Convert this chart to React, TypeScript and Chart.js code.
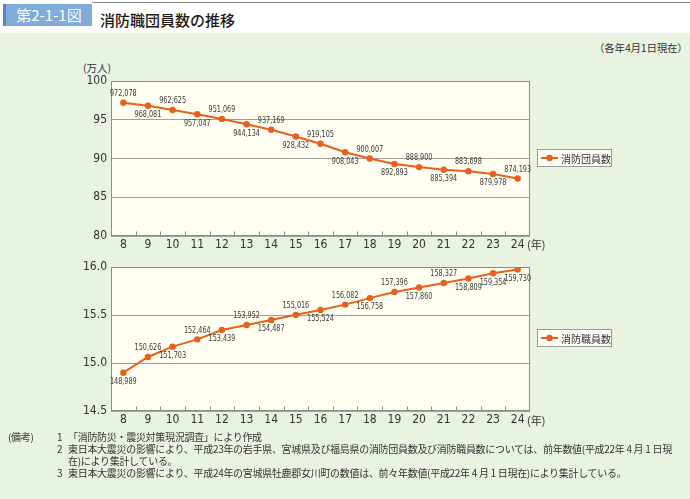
import React, { useEffect, useRef } from 'react';
import { Chart, registerables } from 'chart.js';

Chart.register(...registerables);

// ---- data ----
const years = ['8', '9', '10', '11', '12', '13', '14', '15', '16', '17', '18', '19', '20', '21', '22', '23', '24'];
// 消防団員数 (万人)
const volunteerCounts = [97.2078, 96.8081, 96.2625, 95.7047, 95.1069, 94.4134, 93.7169, 92.8432, 91.9105, 90.8043, 90.0007, 89.2893, 88.89, 88.5394, 88.3698, 87.9978, 87.4193];
// 消防職員数 (万人)
const staffCounts = [14.8989, 15.0626, 15.1703, 15.2464, 15.3439, 15.3952, 15.4487, 15.5016, 15.5524, 15.6082, 15.6758, 15.7396, 15.786, 15.8327, 15.8809, 15.9354, 15.973];
const volunteerTicks = [80, 85, 90, 95, 100];
const staffTicks = [14.5, 15.0, 15.5, 16.0];
// label placement: a = above, b = below
const volunteerLabelSide = ['a', 'b', 'a', 'b', 'a', 'b', 'a', 'b', 'a', 'b', 'a', 'b', 'a', 'b', 'a', 'b', 'a'];
const staffLabelSide = ['b', 'a', 'b', 'a', 'b', 'a', 'b', 'a', 'b', 'a', 'b', 'a', 'b', 'a', 'b', 'b', 'b'];

const ORANGE = '#e9601d';
const NUM_FONT = "'Liberation Sans Narrow', 'DejaVu Sans Condensed', 'Noto Sans', sans-serif";
const JP_FONT = "'Noto Sans CJK JP', 'Noto Sans', sans-serif";

const fmt = (v: number) => Math.round(v * 10000).toLocaleString('en-US');

function makePlugins(sides: string[]) {
  return [
    {
      id: 'plotBg',
      beforeDraw(chart: any) {
        const { ctx, chartArea: a } = chart;
        ctx.save();
        ctx.fillStyle = '#fffef1';
        ctx.fillRect(a.left, a.top, a.right - a.left, a.bottom - a.top);
        ctx.restore();
      },
      beforeDatasetsDraw(chart: any) {
        const { ctx, chartArea: a } = chart;
        const xs = chart.scales.x;
        ctx.save();
        ctx.strokeStyle = '#8c8c8c';
        ctx.lineWidth = 1;
        const l = Math.round(a.left) + 0.5;
        const r = Math.round(a.right) - 0.5;
        const t = Math.round(a.top) + 0.5;
        const b = Math.round(a.bottom) - 0.5;
        ctx.strokeRect(l, t, r - l, b - t);
        ctx.beginPath();
        for (let i = 0; i < years.length - 1; i++) {
          const x = Math.round((xs.getPixelForValue(i) + xs.getPixelForValue(i + 1)) / 2) + 0.5;
          ctx.moveTo(x, b);
          ctx.lineTo(x, b - 4);
        }
        ctx.stroke();
        ctx.restore();
      },
      afterDatasetsDraw(chart: any) {
        const { ctx } = chart;
        const meta = chart.getDatasetMeta(0);
        const data = chart.data.datasets[0].data as number[];
        ctx.save();
        ctx.fillStyle = '#3a3a3a';
        ctx.font = `9px ${NUM_FONT}`;
        ctx.textAlign = 'center';
        ctx.textBaseline = 'middle';
        meta.data.forEach((pt: any, i: number) => {
          const dy = sides[i] === 'a' ? -9 : 9;
          ctx.save();
          ctx.translate(pt.x, pt.y + dy);
          ctx.scale(0.8, 1);
          ctx.fillText(fmt(data[i]), 0, 0);
          ctx.restore();
        });
        ctx.restore();
      },
    },
  ];
}

function makeConfig(values: number[], ticks: number[], sides: string[], label: string, decimals: number, topPad: number, rightPad: number, xHeight: number): any {
  return {
    type: 'line',
    data: {
      labels: years,
      datasets: [
        {
          label,
          data: values,
          borderColor: ORANGE,
          backgroundColor: ORANGE,
          borderWidth: 2,
          pointRadius: 3.2,
          pointBackgroundColor: ORANGE,
          pointBorderWidth: 0,
          tension: 0,
        },
      ],
    },
    options: {
      animation: false,
      responsive: false,
      layout: { padding: { top: topPad, right: rightPad, left: 0, bottom: 0 } },
      plugins: { legend: { display: false }, tooltip: { enabled: false } },
      scales: {
        x: {
          type: 'category',
          offset: true,
          grid: { display: false, drawTicks: false },
          border: { display: false },
          ticks: {
            color: '#333',
            font: { family: NUM_FONT, size: 12 },
            padding: 2,
            maxRotation: 0,
            autoSkip: false,
          },
          afterFit: (s: any) => {
            s.height = xHeight;
          },
        },
        y: {
          min: ticks[0],
          max: ticks[ticks.length - 1],
          afterBuildTicks: (s: any) => {
            s.ticks = ticks.map((v) => ({ value: v }));
          },
          grid: { color: '#a0a0a0', drawTicks: false, lineWidth: 1 },
          border: { display: false },
          ticks: {
            color: '#333',
            font: { family: NUM_FONT, size: 12 },
            padding: 4,
            callback: (v: any) => Number(v).toFixed(decimals),
          },
          afterFit: (s: any) => {
            s.width = 111;
          },
        },
      },
    },
    plugins: makePlugins(sides),
  };
}

function LineChart(props: { config: any; width: number; height: number; left: number; top: number }) {
  const ref = useRef<HTMLCanvasElement | null>(null);
  useEffect(() => {
    if (!ref.current) return;
    const c = new Chart(ref.current, props.config);
    return () => c.destroy();
  }, []);
  return (
    <canvas
      ref={ref}
      width={props.width}
      height={props.height}
      style={{ position: 'absolute', left: props.left, top: props.top, width: props.width, height: props.height }}
    />
  );
}

function Legend(props: { text: string; left: number; top: number }) {
  return (
    <div
      style={{
        position: 'absolute',
        left: props.left,
        top: props.top,
        width: 75,
        height: 18,
        boxSizing: 'border-box',
        border: '1px solid #9a9a9a',
        background: '#fdfdf6',
        display: 'flex',
        alignItems: 'center',
        paddingLeft: 2,
      }}
    >
      <svg width={19} height={10} style={{ display: 'block' }}>
        <line x1={1} y1={5} x2={18} y2={5} stroke={ORANGE} strokeWidth={2} />
        <circle cx={9.5} cy={5} r={3.2} fill={ORANGE} />
      </svg>
      <span style={{ fontFamily: JP_FONT, fontSize: 10, color: '#333', marginLeft: 2, whiteSpace: 'nowrap' }}>{props.text}</span>
    </div>
  );
}

const abs = (left: number, top: number, extra: any = {}) => ({ position: 'absolute' as const, left, top, whiteSpace: 'nowrap' as const, ...extra });

export default function App() {
  const cfg1 = makeConfig(volunteerCounts, volunteerTicks, volunteerLabelSide, '消防団員数', 0, 21, 30, 24);
  const cfg2 = makeConfig(staffCounts, staffTicks, staffLabelSide, '消防職員数', 1, 17, 30, 25);
  const noteStyle = { fontFamily: JP_FONT, fontSize: 10, letterSpacing: '-0.3px', color: '#333', lineHeight: '12px' };
  return (
    <div style={{ position: 'absolute', left: 0, top: 0, width: 690, height: 499, background: '#fff', overflow: 'hidden', fontFamily: JP_FONT }}>
      <div style={abs(92, 2, { width: 598, height: 1, background: '#8a8a8a' })} />
      <div
        style={abs(3, 4, {
          width: 89,
          height: 22,
          boxSizing: 'border-box',
          background: '#80acdc',
          borderLeft: '3px solid #5585c2',
          color: '#fff',
          fontSize: 15,
          lineHeight: '22px',
          textAlign: 'center',
        })}
      >
        第2-1-1図
      </div>
      <div style={abs(100, 9, { fontSize: 15, lineHeight: '22px', color: '#231815', fontWeight: 500 })}>消防職団員数の推移</div>
      <div style={abs(0, 33, { width: 690, height: 466, background: '#e9f3e2' })} />
      <div style={abs(594, 41, { fontSize: 10.5, letterSpacing: '-0.2px', lineHeight: '13px', color: '#333' })}>（各年4月1日現在）</div>
      <div style={abs(83, 61, { fontSize: 10.5, lineHeight: '13px', color: '#333' })}>(万人)</div>

      <LineChart config={cfg1} width={560} height={200} left={0} top={60} />
      <div style={abs(527, 238, { fontSize: 11, lineHeight: '13px', color: '#333' })}>(年)</div>
      <Legend text="消防団員数" left={537} top={149} />

      <LineChart config={cfg2} width={560} height={186} left={0} top={250} />
      <div style={abs(527, 414, { fontSize: 11, lineHeight: '13px', color: '#333' })}>(年)</div>
      <Legend text="消防職員数" left={537} top={329} />

      <div style={abs(8, 431, noteStyle)}>(備考)</div>
      <div style={abs(57, 431, noteStyle)}>1</div>
      <div style={abs(68, 431, noteStyle)}>「消防防災・震災対策現況調査」により作成</div>
      <div style={abs(57, 443, noteStyle)}>2</div>
      <div style={abs(68, 443, noteStyle)}>東日本大震災の影響により、平成23年の岩手県、宮城県及び福島県の消防団員数及び消防職員数については、前年数値(平成22年 4 月 1 日現</div>
      <div style={abs(68, 455, noteStyle)}>在)により集計している。</div>
      <div style={abs(57, 467, noteStyle)}>3</div>
      <div style={abs(68, 467, noteStyle)}>東日本大震災の影響により、平成24年の宮城県牡鹿郡女川町の数値は、前々年数値(平成22年 4 月 1 日現在)により集計している。</div>
    </div>
  );
}
